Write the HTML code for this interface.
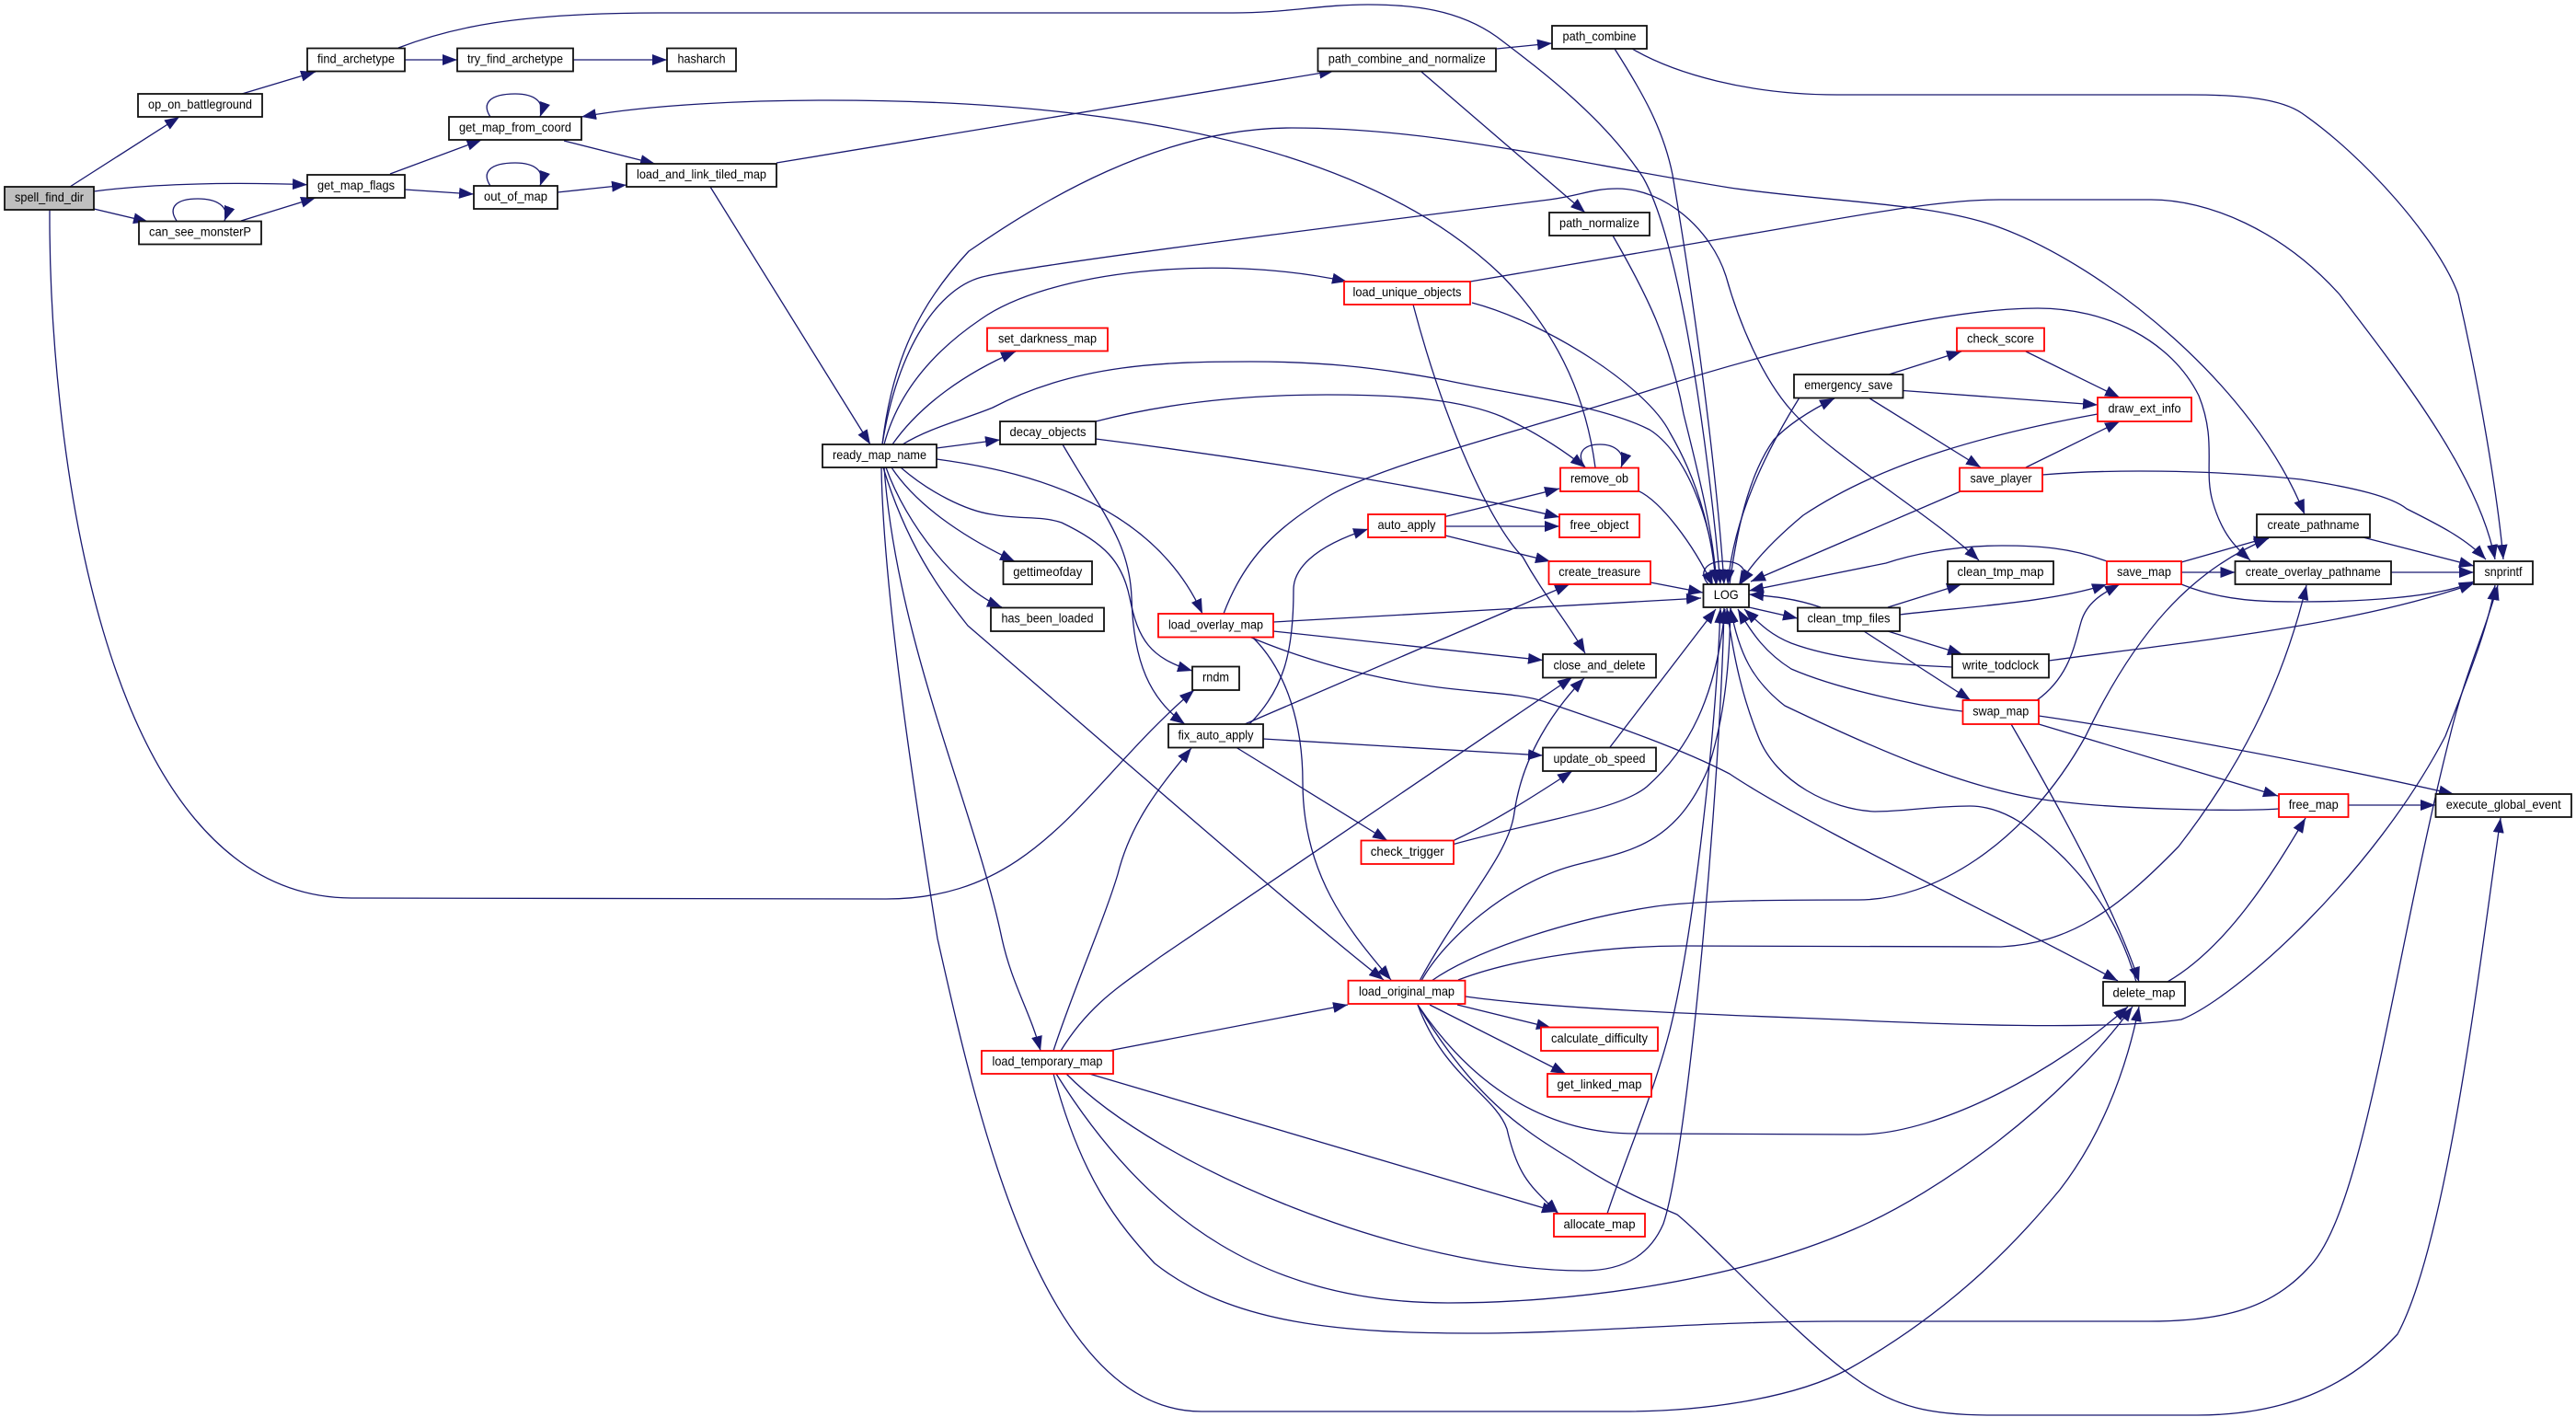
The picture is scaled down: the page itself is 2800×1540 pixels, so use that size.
<!DOCTYPE html>
<html><head><meta charset="utf-8"><style>
html,body{margin:0;padding:0;background:#fff}
svg{display:block}
.e path{fill:none;stroke:#191970;stroke-width:1.3;marker-end:url(#a)}
.n rect{fill:#fff;stroke:#111;stroke-width:1.8}
.n rect.r{stroke:#f00}
.n rect.g{fill:#bfbfbf}
.n text{font-family:"Liberation Sans",sans-serif;font-size:14px;text-anchor:middle;fill:#000;transform:translateY(-1.5px)}
</style></head><body>
<svg xmlns="http://www.w3.org/2000/svg" width="2800" height="1540" viewBox="0 0 2800 1540">
<defs><marker id="a" markerUnits="userSpaceOnUse" markerWidth="17" markerHeight="13" refX="16" refY="6" orient="auto"><path d="M0,0L16,6L0,12z" fill="#191970"/></marker></defs>
<rect width="2800" height="1540" fill="#fff"/>
<g class="e">
<path d="M76,203L195,127"/>
<path d="M102,208C170,199 258,198 334,200.7"/>
<path d="M102,227L161,241"/>
<path d="M54,228C53,450 100,976 383,976L963,977C1130,977 1180,850 1298,750"/>
<path d="M263,102L343,78"/>
<path d="M262,240L343,215"/>
<path d="M192,240C182,225 192,216 215,216C235,216 250,224 244,240"/>
<path d="M440,65L497,65"/>
<path d="M623,65L725,65"/>
<path d="M433,52C490,30 560,14 717,14L1340,14C1400,14 1435,5 1487,5C1535,5 1585,10 1627,40C1680,80 1745,130 1786,193C1830,270 1860,520 1870,635"/>
<path d="M424,189L523.5,152"/>
<path d="M440,206L515,211"/>
<path d="M533,127C523,112 533,102 560,102C580,102 593,110 587,127"/>
<path d="M533,202C523,187 533,177 560,177C580,177 593,185 587,202"/>
<path d="M613,153L712,178"/>
<path d="M606,209L681,201"/>
<path d="M844,177L1450,77"/>
<path d="M772,203L946,483"/>
<path d="M1627,53L1687,47"/>
<path d="M1545,78L1723,231"/>
<path d="M1755,53C1785,100 1808,140 1818,190C1840,320 1865,500 1874,635"/>
<path d="M1774,53C1820,80 1900,103 1997,103L2379,103C2440,103 2480,108 2502,123C2570,170 2650,260 2672,320C2695,420 2715,540 2721,608"/>
<path d="M1598,306L1880,258C2000,238 2100,217 2173,217L2338,217C2400,217 2480,250 2543,320C2620,420 2695,520 2712,608"/>
<path d="M959,483C970,390 1000,330 1053,273C1130,220 1260,139 1404,139C1560,139 1700,175 1880,204C1990,220 2100,220 2173,247C2290,290 2450,420 2505,559"/>
<path d="M959,483C975,380 1020,310 1072,300C1140,285 1500,240 1684,217C1720,212 1730,205 1758,205C1810,205 1860,250 1876,300C1890,350 1915,410 1947,446C1990,495 2100,560 2151,609"/>
<path d="M961,483C975,430 1010,385 1066,347C1140,295 1320,275 1464,306"/>
<path d="M970,483C1000,440 1050,405 1104,382"/>
<path d="M981,483C1010,465 1050,455 1079,443C1170,395 1270,393 1359,393C1430,393 1490,398 1570,413C1650,430 1740,440 1793,467C1830,490 1860,560 1866,635"/>
<path d="M1018,487L1087,478"/>
<path d="M1018,499C1100,510 1250,540 1307,667"/>
<path d="M979,508C1010,535 1050,555 1078,559C1110,565 1130,560 1154,568C1200,590 1220,610 1228,650C1237,695 1250,715 1296,729"/>
<path d="M969,508C1000,555 1060,590 1103,610"/>
<path d="M963,508C985,570 1040,640 1089,660"/>
<path d="M960,508C985,590 1020,640 1052,680C1180,790 1420,1000 1504,1065"/>
<path d="M961,508C975,700 1060,880 1089,1020C1100,1070 1120,1100 1131,1142"/>
<path d="M958,508C960,650 1000,900 1019,1020C1060,1200 1130,1534 1306,1534L1765,1534C1850,1534 1950,1520 2009,1488C2130,1420 2200,1340 2239,1293C2280,1240 2310,1170 2325,1094"/>
<path d="M1191,458C1280,435 1370,429 1442,429C1530,429 1590,435 1633,453C1670,470 1700,490 1723,508"/>
<path d="M1191,477C1350,497 1560,530 1695,562"/>
<path d="M1155,483C1200,560 1228,590 1230,650C1232,720 1250,760 1288,787"/>
<path d="M1358,787C1395,750 1406,710 1406,641C1406,620 1425,595 1487,575"/>
<path d="M1353,787L1706,635"/>
<path d="M1373,803L1677,821"/>
<path d="M1344,812.5L1508,913.5"/>
<path d="M1571,561.4L1695,531"/>
<path d="M1571,572L1695,572"/>
<path d="M1571,582L1685,610"/>
<path d="M1723,508C1712,492 1722,483 1739,483C1755,483 1768,492 1762,508"/>
<path d="M1781,533.6C1805,545 1840,590 1862,637"/>
<path d="M1734,508C1725,440 1700,370 1633,300C1540,210 1350,109 900,109C820,109 710,113 632,127"/>
<path d="M1794,633L1851,644"/>
<path d="M1750,812L1865,662"/>
<path d="M1580,913.5C1620,895 1660,870 1709,838"/>
<path d="M1580,917.5C1680,890 1760,880 1790,855C1835,815 1865,760 1875,662"/>
<path d="M1600,329C1680,350 1790,420 1815,470C1850,530 1862,590 1865,635"/>
<path d="M1536,331C1570,460 1620,570 1655,605C1680,650 1700,670 1723,710"/>
<path d="M1753,256C1790,320 1815,370 1830,450C1850,530 1862,580 1866,635"/>
<path d="M1880,635C1890,560 1905,510 1928,478C1945,460 1970,445 1994,433"/>
<path d="M1956,432C1920,490 1885,560 1878,635"/>
<path d="M2053,407L2132,382"/>
<path d="M2068.5,424.5L2280,440"/>
<path d="M2031.5,432.5L2153,508"/>
<path d="M2202,382L2304,432"/>
<path d="M2280,450C2170,470 2050,500 1960,560C1930,585 1905,610 1890,636"/>
<path d="M2202,508L2304,458"/>
<path d="M2220,516C2290,510 2400,510 2501,521C2560,530 2600,540 2616,553C2650,570 2680,585 2702,608"/>
<path d="M2131,534L1903,632"/>
<path d="M2290,610C2250,595 2215,593 2176,593C2120,593 2074,604 2050,612L1901,642"/>
<path d="M2371,611L2466,584"/>
<path d="M2371,622L2429.5,622"/>
<path d="M2371,635C2420,655 2470,654 2501,654C2560,654 2650,650 2689,632"/>
<path d="M1979,660C1950,650 1925,648 1901,646"/>
<path d="M1901,660L1954,672"/>
<path d="M2052,660L2132,635"/>
<path d="M2065,668C2130,660 2230,655 2290,635"/>
<path d="M2052,686L2133,711"/>
<path d="M2026,686L2142,761"/>
<path d="M2122,725C2050,722 1990,715 1947,699C1925,690 1915,680 1896,662"/>
<path d="M2227,718C2380,697 2560,680 2689,634"/>
<path d="M2133,773C2090,768 2000,750 1947,727C1920,710 1905,690 1889,662"/>
<path d="M2214,761C2250,735 2255,700 2262,676C2268,655 2285,645 2304,635"/>
<path d="M2216,787L2476,865"/>
<path d="M2216,778C2300,790 2500,825 2667,863"/>
<path d="M2186,787C2240,880 2300,990 2325,1067"/>
<path d="M2477,879C2430,882 2300,880 2221,869C2130,855 2030,810 1940,767C1905,740 1890,710 1881,661"/>
<path d="M2552.5,875L2647,875"/>
<path d="M2356,1067C2420,1030 2470,950 2506,889"/>
<path d="M2322,1067C2300,990 2260,950 2244,933C2200,890 2170,876 2141,876C2100,876 2070,882 2038,882C1990,880 1930,850 1911,800C1895,760 1885,720 1877,661"/>
<path d="M1747,1319C1770,1250 1797,1190 1815,1120C1840,1020 1865,800 1870,661"/>
<path d="M2568.5,584L2689,615"/>
<path d="M2599,622L2689,622"/>
<path d="M1857,635C1845,622 1855,610 1873,610C1890,610 1903,618 1892,635"/>
<path d="M1543,1066C1590,980 1640,930 1646,883C1655,820 1690,770 1722,737"/>
<path d="M1545,1066C1570,1020 1640,960 1709,941C1770,925 1820,920 1856,837C1875,780 1880,720 1881,661"/>
<path d="M1556,1066C1600,1035 1700,1000 1800,985C1850,978 1950,978 2020,978C2100,978 2200,920 2267,800C2320,690 2380,620 2466,585"/>
<path d="M1585,1065C1650,1040 1750,1028 1829,1028L2175,1029C2250,1025 2300,990 2368,920C2430,840 2480,750 2507,636"/>
<path d="M1593,1083C1700,1098 1900,1104 2000,1108C2100,1113 2290,1120 2371,1108C2430,1085 2580,950 2658,800C2685,730 2705,680 2712,636"/>
<path d="M1541,1092C1600,1190 1650,1225 1708,1260C1760,1295 1800,1310 1823,1320C1860,1350 1950,1450 2015,1497C2060,1530 2100,1538 2164,1538L2388,1538C2480,1538 2550,1510 2606,1450C2660,1350 2695,1050 2718,889"/>
<path d="M1541,1092C1600,1180 1680,1232 1778,1232L2020,1233C2110,1233 2240,1160 2313,1094"/>
<path d="M1541,1092C1570,1170 1625,1190 1638,1227C1650,1280 1665,1290 1694,1319"/>
<path d="M1584,1092L1686,1117"/>
<path d="M1554,1092L1702,1167"/>
<path d="M1184,1167L1692,1317"/>
<path d="M1159,1167C1260,1270 1530,1381 1721,1381C1770,1381 1795,1360 1808,1330C1835,1250 1870,850 1874,661"/>
<path d="M1148,1167C1250,1330 1380,1416 1574,1416C1700,1416 1880,1395 2015,1336C2110,1295 2240,1200 2318,1094"/>
<path d="M1145,1167C1175,1280 1215,1330 1255,1373C1340,1440 1460,1449 1606,1449C1720,1449 1850,1436 1998,1436L2336,1436C2420,1436 2470,1420 2508,1379C2570,1320 2600,1050 2663,800C2680,730 2700,690 2715,636"/>
<path d="M1145,1142C1165,1080 1200,1000 1215,950C1230,890 1265,850 1295,813"/>
<path d="M1153,1142C1185,1090 1220,1070 1261,1040L1709,736"/>
<path d="M1205,1142L1465,1092"/>
<path d="M1330,667C1355,600 1395,570 1441,541C1500,505 1650,470 1800,422C1900,390 2100,335 2215,335C2290,335 2360,370 2390,430C2410,480 2395,510 2405,545C2415,580 2430,595 2446,609"/>
<path d="M1384,676L1849,650"/>
<path d="M1384,686L1677,717.5"/>
<path d="M1358,692C1400,710 1450,725 1486,733C1580,755 1640,750 1677,762C1760,790 1830,815 1880,841C1960,895 2180,1000 2302,1066"/>
<path d="M1361,692C1400,730 1416,790 1416,850C1416,950 1465,1010 1512,1065"/>
</g>
<g class="n">
<rect class="g" x="5" y="203" width="97" height="25"/><text x="53.5" y="220.5" textLength="75" lengthAdjust="spacingAndGlyphs">spell_find_dir</text>
<rect x="150" y="102" width="135" height="25"/><text x="217.5" y="119.5" textLength="113" lengthAdjust="spacingAndGlyphs">op_on_battleground</text>
<rect x="334" y="52.500" width="106" height="25"/><text x="387" y="70" textLength="84" lengthAdjust="spacingAndGlyphs">find_archetype</text>
<rect x="497" y="52.500" width="126" height="25"/><text x="560" y="70" textLength="104" lengthAdjust="spacingAndGlyphs">try_find_archetype</text>
<rect x="725" y="52.500" width="75" height="25"/><text x="762.500" y="70" textLength="52" lengthAdjust="spacingAndGlyphs">hasharch</text>
<rect x="488" y="127" width="144" height="25"/><text x="560" y="144.500" textLength="122" lengthAdjust="spacingAndGlyphs">get_map_from_coord</text>
<rect x="334" y="190" width="106" height="25"/><text x="387" y="207.500" textLength="84" lengthAdjust="spacingAndGlyphs">get_map_flags</text>
<rect x="515" y="202" width="91" height="25"/><text x="560.500" y="219.500" textLength="69" lengthAdjust="spacingAndGlyphs">out_of_map</text>
<rect x="681" y="178" width="163" height="25"/><text x="762.500" y="195.500" textLength="141" lengthAdjust="spacingAndGlyphs">load_and_link_tiled_map</text>
<rect x="151" y="240.500" width="133" height="25"/><text x="217.500" y="258" textLength="111" lengthAdjust="spacingAndGlyphs">can_see_monsterP</text>
<rect x="1432.500" y="52.500" width="193.500" height="25"/><text x="1529.250" y="70" textLength="171" lengthAdjust="spacingAndGlyphs">path_combine_and_normalize</text>
<rect x="1687" y="28" width="103" height="25"/><text x="1738.500" y="45.500" textLength="80" lengthAdjust="spacingAndGlyphs">path_combine</text>
<rect x="1684" y="231" width="109" height="25"/><text x="1738.500" y="248.500" textLength="87" lengthAdjust="spacingAndGlyphs">path_normalize</text>
<rect class="r" x="1461" y="306" width="137" height="25"/><text x="1529.500" y="323.500" textLength="118" lengthAdjust="spacingAndGlyphs">load_unique_objects</text>
<rect class="r" x="1073" y="356.500" width="131" height="25"/><text x="1138.500" y="374" textLength="107" lengthAdjust="spacingAndGlyphs">set_darkness_map</text>
<rect x="1087" y="458" width="104" height="25"/><text x="1139" y="475.500" textLength="83" lengthAdjust="spacingAndGlyphs">decay_objects</text>
<rect x="894" y="483" width="124" height="25"/><text x="956" y="500.500" textLength="102" lengthAdjust="spacingAndGlyphs">ready_map_name</text>
<rect x="1950" y="407" width="118.500" height="25.500"/><text x="2009.250" y="424.500" textLength="96" lengthAdjust="spacingAndGlyphs">emergency_save</text>
<rect class="r" x="2127" y="356.500" width="95" height="25"/><text x="2174.500" y="374" textLength="73" lengthAdjust="spacingAndGlyphs">check_score</text>
<rect class="r" x="2280" y="432" width="102" height="26"/><text x="2331" y="450" textLength="79" lengthAdjust="spacingAndGlyphs">draw_ext_info</text>
<rect class="r" x="2130" y="508.500" width="90" height="25.500"/><text x="2175" y="526" textLength="67" lengthAdjust="spacingAndGlyphs">save_player</text>
<rect x="2453" y="559" width="123" height="25"/><text x="2514.500" y="576.500" textLength="100" lengthAdjust="spacingAndGlyphs">create_pathname</text>
<rect x="2429.500" y="610" width="169.500" height="25"/><text x="2514.250" y="627.500" textLength="147" lengthAdjust="spacingAndGlyphs">create_overlay_pathname</text>
<rect x="2689" y="610" width="64" height="25"/><text x="2721" y="627.500" textLength="41" lengthAdjust="spacingAndGlyphs">snprintf</text>
<rect class="r" x="2290" y="610" width="81" height="25"/><text x="2330.500" y="627.500" textLength="59" lengthAdjust="spacingAndGlyphs">save_map</text>
<rect x="2117" y="610" width="115" height="25"/><text x="2174.500" y="627.500" textLength="94" lengthAdjust="spacingAndGlyphs">clean_tmp_map</text>
<rect x="1851.500" y="635" width="49.500" height="25"/><text x="1876.250" y="652.500" textLength="27" lengthAdjust="spacingAndGlyphs">LOG</text>
<rect x="1954" y="660.500" width="111" height="25.500"/><text x="2009.500" y="678" textLength="90" lengthAdjust="spacingAndGlyphs">clean_tmp_files</text>
<rect x="2122" y="711" width="105" height="25.500"/><text x="2174.500" y="729" textLength="83" lengthAdjust="spacingAndGlyphs">write_todclock</text>
<rect class="r" x="2133.500" y="761" width="82.500" height="26"/><text x="2174.750" y="779" textLength="61" lengthAdjust="spacingAndGlyphs">swap_map</text>
<rect class="r" x="2477" y="863" width="75.500" height="25"/><text x="2514.750" y="880.500" textLength="54" lengthAdjust="spacingAndGlyphs">free_map</text>
<rect x="2647.500" y="863" width="147.500" height="25"/><text x="2721.250" y="880.500" textLength="125" lengthAdjust="spacingAndGlyphs">execute_global_event</text>
<rect class="r" x="1696" y="508.500" width="85" height="25.500"/><text x="1738.500" y="526" textLength="63" lengthAdjust="spacingAndGlyphs">remove_ob</text>
<rect class="r" x="1695" y="559" width="87" height="25"/><text x="1738.500" y="576.500" textLength="64" lengthAdjust="spacingAndGlyphs">free_object</text>
<rect class="r" x="1487" y="559" width="84" height="25"/><text x="1529" y="576.500" textLength="63" lengthAdjust="spacingAndGlyphs">auto_apply</text>
<rect class="r" x="1683.500" y="610" width="110.500" height="25"/><text x="1738.750" y="627.500" textLength="89" lengthAdjust="spacingAndGlyphs">create_treasure</text>
<rect x="1090.500" y="610" width="96.500" height="25"/><text x="1138.750" y="627.500" textLength="75" lengthAdjust="spacingAndGlyphs">gettimeofday</text>
<rect x="1077" y="660.500" width="123" height="25.500"/><text x="1138.500" y="678" textLength="100" lengthAdjust="spacingAndGlyphs">has_been_loaded</text>
<rect class="r" x="1259" y="667" width="125" height="25.500"/><text x="1321.500" y="685" textLength="103" lengthAdjust="spacingAndGlyphs">load_overlay_map</text>
<rect x="1296" y="724.500" width="51" height="25.500"/><text x="1321.500" y="742" textLength="29" lengthAdjust="spacingAndGlyphs">rndm</text>
<rect x="1677" y="711" width="123" height="25.500"/><text x="1738.500" y="729" textLength="100" lengthAdjust="spacingAndGlyphs">close_and_delete</text>
<rect x="1270" y="787" width="103" height="25.500"/><text x="1321.500" y="805" textLength="82" lengthAdjust="spacingAndGlyphs">fix_auto_apply</text>
<rect x="1677" y="812.500" width="123" height="25.500"/><text x="1738.500" y="830.500" textLength="100" lengthAdjust="spacingAndGlyphs">update_ob_speed</text>
<rect class="r" x="1479.500" y="913.500" width="100.500" height="25.500"/><text x="1529.750" y="931.500" textLength="80" lengthAdjust="spacingAndGlyphs">check_trigger</text>
<rect class="r" x="1465.500" y="1065.700" width="127" height="25.300"/><text x="1529" y="1083.500" textLength="104" lengthAdjust="spacingAndGlyphs">load_original_map</text>
<rect class="r" x="1675" y="1116.500" width="127" height="25.500"/><text x="1738.500" y="1134.500" textLength="105" lengthAdjust="spacingAndGlyphs">calculate_difficulty</text>
<rect class="r" x="1682" y="1167" width="113" height="25"/><text x="1738.500" y="1184.500" textLength="92" lengthAdjust="spacingAndGlyphs">get_linked_map</text>
<rect class="r" x="1067" y="1142" width="143" height="25"/><text x="1138.500" y="1159.500" textLength="120" lengthAdjust="spacingAndGlyphs">load_temporary_map</text>
<rect class="r" x="1689" y="1319" width="99" height="25"/><text x="1738.500" y="1336.500" textLength="78" lengthAdjust="spacingAndGlyphs">allocate_map</text>
<rect x="2286" y="1067" width="89" height="26"/><text x="2330.500" y="1085" textLength="68" lengthAdjust="spacingAndGlyphs">delete_map</text>
</g>
</svg>
</body></html>
